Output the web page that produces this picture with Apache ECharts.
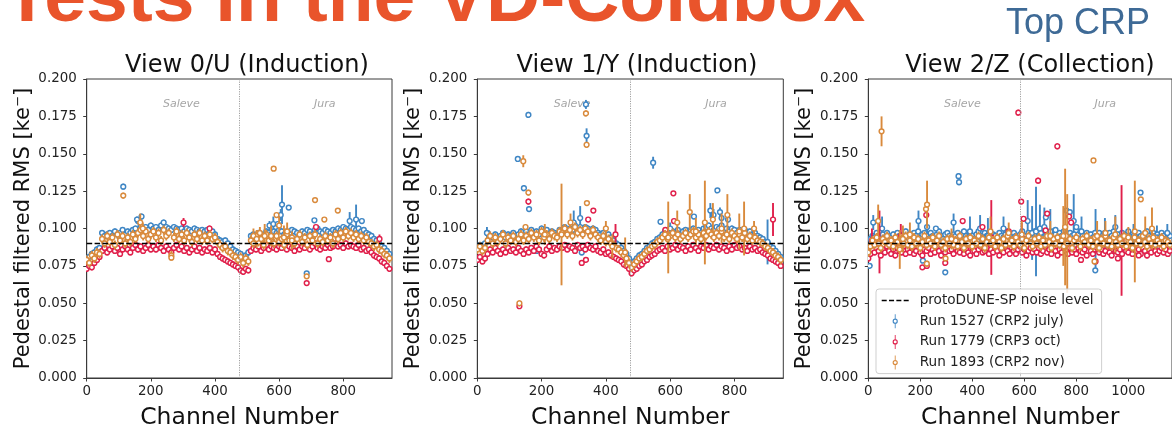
<!DOCTYPE html>
<html>
<head>
<meta charset="utf-8">
<script src="https://cdn.jsdelivr.net/npm/echarts@6/dist/echarts.min.js"></script>
<style>
  html, body { margin: 0; padding: 0; background: #fff; }
  #chart { width: 1172px; height: 435px; }
</style>
</head>
<body>
<div id="chart"></div>
<script>
// Pedestal-filtered noise RMS per channel for the three readout views of the top CRP.

const HEADER = 'Tests in the VD-Coldbox';
const SUBHEADER = 'Top CRP';
const VIEW_TITLES = ['View 0/U (Induction)', 'View 1/Y (Induction)', 'View 2/Z (Collection)'];
const RUN_NAMES = ['Run 1527 (CRP2 july)', 'Run 1779 (CRP3 oct)', 'Run 1893 (CRP2 nov)'];
const NOISE_NAME = 'protoDUNE-SP noise level';
const NOISE_LEVEL = 0.09;
const REGION_NAMES = ['Saleve', 'Jura'];

const VIEW_CHANNELS = [952, 952, 1168];       // channels per view
const VIEW_BOUNDARY = [476, 476, 584];        // Saleve | Jura split
const X_TICKS = [[0, 200, 400, 600, 800], [0, 200, 400, 600, 800], [0, 200, 400, 600, 800, 1000]];
const Y_MIN = 0, Y_MAX = 0.2, Y_STEP = 0.025;
const SAMPLE_STEP = 8;                        // channel spacing of the band samples
const BAND_ERR = [0.002, 0.002, 0.003];       // typical error on a band sample, per run

// ---- View 0/U : band samples (every 8 channels, 0..944) ----
const u1527 = [.080,.081,.083,.084,.086,.087,
  .097,.095,.096,.097,.095,.098,.096,.097,.099,.096,
  .098,.097,.099,.100,.105,.102,.100,.101,.099,.102,
  .100,.101,.099,.102,.104,.101,.100,.099,.101,.100,
  .099,.100,.098,.100,.099,.098,.100,.099,.098,.099,
  .098,.099,.097,.098,.096,.093,
  .092,.091,.092,.090,.088,.086,.085,.084,
  .083,.081,.082,.084,
  .095,.096,.094,.097,.096,.095,.098,.097,.096,.098,
  .097,.099,.098,.096,.098,.097,.099,.098,.097,.096,
  .098,.097,.099,.098,.096,.099,.100,.098,.097,.099,
  .098,.097,.099,.098,.100,.099,.101,.100,.099,.101,
  .100,.099,.100,.098,.099,.097,.096,
  .095,.093,.092,.090,.088,.087,.085,.083];
const u1779 = [.073,.075,.074,.077,.079,.081,
  .085,.087,.084,.086,.088,.085,.087,.083,.086,.088,
  .086,.084,.087,.089,.086,.088,.085,.087,.089,.086,
  .088,.086,.089,.087,.085,.088,.086,.084,.087,.089,
  .086,.088,.085,.087,.084,.086,.088,.085,.087,.084,
  .086,.085,.087,.084,.086,.083,
  .081,.080,.079,.078,.077,.076,.075,.074,
  .072,.071,.073,.072,
  .085,.087,.086,.088,.085,.087,.089,.086,.088,.087,
  .086,.088,.087,.089,.086,.088,.087,.085,.088,.086,
  .088,.087,.089,.086,.088,.090,.087,.086,.088,.087,
  .089,.087,.088,.090,.088,.089,.087,.090,.088,.089,
  .088,.087,.089,.086,.087,.085,.086,
  .084,.082,.081,.080,.078,.077,.075,.073];
const u1893 = [.079,.077,.082,.080,.084,.083,
  .093,.090,.095,.091,.094,.089,.096,.092,.095,.090,
  .094,.091,.096,.093,.097,.099,.095,.098,.093,.096,
  .098,.094,.097,.092,.099,.095,.097,.082,.094,.098,
  .093,.096,.092,.097,.094,.091,.096,.093,.097,.092,
  .095,.092,.096,.093,.094,.091,
  .089,.087,.088,.085,.084,.082,.081,.079,
  .081,.077,.080,.078,
  .092,.090,.095,.091,.093,.089,.096,.092,.094,.090,
  .095,.091,.093,.089,.096,.092,.094,.090,.093,.096,
  .091,.094,.089,.095,.092,.096,.090,.093,.091,.095,
  .092,.094,.090,.096,.093,.097,.094,.098,.095,.097,
  .094,.096,.093,.095,.092,.094,.091,
  .090,.088,.089,.086,.085,.083,.082,.080];
// isolated channels and long error bars: [channel, rms, error]
const u1527Extra = [[114,.128,.002],[157,.106,.002],[171,.108,.002],[570,.102,.003],[582,.103,.005],
  [596,.103,.002],[605,.109,.004],[609,.116,.013],[630,.114,.001],[686,.070,.001],[710,.1055,.001],
  [820,.105,.006],[840,.106,.010],[858,.105,.001]];
const u1779Extra = [[302,.104,.003],[383,.100,.002],[686,.0635,.001],[715,.101,.001],[755,.0795,.001],[913,.093,.003]];
const u1893Extra = [[114,.122,.002],[167,.104,.006],[175,.100,.004],[264,.0805,.002],[520,.095,.005],
  [530,.093,.006],[540,.097,.004],[555,.095,.008],[575,.095,.007],[583,.140,.001],[592,.109,.001],
  [600,.102,.006],[615,.094,.008],[625,.098,.006],[640,.092,.006],[686,.068,.001],[712,.119,.001],
  [741,.106,.001],[783,.112,.001]];

// ---- View 1/Y : band samples (every 8 channels, 0..944) ----
const y1527 = [.087,.089,.088,.090,
  .097,.095,.094,.096,.093,.095,.097,.094,.096,.095,
  .097,.094,.096,.098,.095,
  .098,.096,.099,.097,.098,.096,.100,.097,.099,.096,.098,.097,.096,.099,
  .099,.101,.098,.100,.099,.102,.100,.101,.099,.101,.100,.098,.100,.099,
  .097,.096,.097,.095,.096,.094,
  .092,.090,.089,.087,.085,.083,.080,
  .077,
  .078,.080,.082,.083,.085,.087,.088,.090,.091,.093,.094,
  .096,.098,.097,.099,.098,.097,.099,.096,.098,.099,
  .097,.099,.100,.098,.099,.097,.100,.101,.102,.100,
  .099,.101,.100,.102,.099,.100,.098,.100,.099,.097,
  .099,.098,.099,.097,.098,.096,.097,.095,.094,
  .093,.091,.090,.088,.087,.085,.083,.081];
const y1779 = [.079,.081,.078,.080,
  .083,.086,.084,.087,.085,.083,.086,.084,.087,.085,
  .086,.084,.087,.085,.083,
  .086,.084,.087,.085,.088,.086,.083,.082,.086,.088,.085,.087,.086,.088,
  .087,.089,.086,.088,.087,.085,.089,.087,.088,.086,.089,.087,.086,.088,
  .085,.084,.086,.083,.084,.082,
  .081,.080,.079,.078,.076,.075,.073,
  .070,
  .072,.073,.075,.076,.078,.079,.081,.082,.083,.085,.086,
  .087,.085,.088,.086,.087,.089,.086,.088,.087,.085,
  .088,.086,.089,.087,.085,.088,.087,.089,.086,.088,
  .087,.089,.086,.088,.087,.085,.088,.086,.089,.087,
  .088,.086,.087,.085,.088,.086,.087,.085,.086,
  .084,.083,.082,.080,.079,.078,.077,.075];
const y1893 = [.086,.088,.085,.087,
  .092,.095,.090,.094,.091,.093,.096,.090,.094,.092,
  .095,.091,.093,.096,.092,
  .095,.093,.097,.094,.096,.092,.098,.094,.096,.093,.097,.095,.094,.098,
  .097,.100,.096,.099,.095,.101,.097,.099,.096,.100,.098,.095,.099,.096,
  .094,.092,.095,.091,.093,.090,
  .089,.087,.086,.084,.082,.080,.077,
  .074,
  .076,.078,.080,.081,.083,.085,.086,.088,.089,.091,.092,
  .094,.096,.093,.095,.097,.094,.096,.093,.095,.097,
  .094,.096,.098,.094,.096,.093,.097,.095,.098,.096,
  .094,.097,.095,.098,.094,.096,.093,.097,.095,.093,
  .096,.094,.097,.093,.095,.092,.094,.092,.091,
  .090,.088,.087,.085,.084,.082,.081,.079];
const y1527Extra = [[30,.097,.004],[126,.1465,.001],[145,.127,.002],[159,.176,.002],[161,.113,.002],
  [185,.085,.001],[300,.104,.008],[320,.107,.008],[325,.084,.002],[338,.183,.003],[340,.162,.005],
  [547,.144,.004],[570,.1045,.001],[600,.100,.004],[674,.108,.001],[725,.112,.005],[735,.109,.004],
  [747,.1255,.001],[755,.111,.003],[760,.107,.002],[780,.106,.002],[903,.091,.015]];
const y1779Extra = [[131,.048,.001],[159,.118,.002],[325,.077,.001],[338,.079,.001],[345,.106,.001],
  [361,.112,.001],[430,.096,.007],[585,.099,.001],[610,.1235,.001],[612,.105,.001],[920,.106,.011]];
const y1893Extra = [[131,.050,.002],[143,.145,.004],[150,.101,.002],[159,.124,.002],[210,.096,.007],
  [262,.096,.034],[290,.104,.006],[338,.177,.002],[340,.156,.002],[341,.117,.001],[400,.100,.005],
  [420,.088,.008],[460,.084,.010],[594,.094,.024],[622,.104,.008],[661,.111,.012],[680,.098,.009],
  [708,.104,.028],[733,.106,.011],[760,.100,.010],[778,.109,.014],[815,.098,.012],[830,.100,.018],
  [861,.100,.005]];

// ---- View 2/Z : band samples (every 8 channels, 0..1160) ----
const z1527 = [.086,.093,.095,.094,.097,.095,.093,.096,.094,.097,
  .095,.094,.096,.093,.097,.095,.094,.096,.098,.094,
  .096,.094,.097,.095,.098,.094,.096,.097,.095,.093,
  .097,.095,.094,.096,.098,.095,.093,.096,.097,.095,
  .094,.096,.095,.097,.094,.096,.098,.095,.094,.097,
  .095,.093,.096,.098,.095,.094,.097,.095,.096,.094,
  .096,.095,.093,.097,.095,.094,.096,.098,.095,.093,
  .097,.095,.094,.096,.098,.095,.093,.097,.094,.096,
  .098,.096,.095,.097,.094,.099,.096,.095,.097,.098,
  .096,.094,.097,.095,.098,.096,.094,.097,.095,.096,
  .094,.096,.098,.095,.093,.097,.095,.096,.094,.097,
  .095,.097,.094,.096,.095,.093,.097,.095,.098,.094,
  .096,.094,.097,.095,.096,.098,.094,.096,.095,.093,
  .097,.095,.094,.096,.098,.095,.093,.097,.095,.096,
  .094,.097,.095,.093,.096,.095];
const z1779 = [.080,.083,.086,.084,.087,.085,.082,.086,.084,.088,
  .085,.083,.086,.082,.087,.085,.084,.088,.083,.086,
  .084,.087,.083,.085,.088,.084,.082,.086,.085,.087,
  .083,.086,.084,.088,.085,.082,.086,.084,.087,.085,
  .086,.083,.087,.085,.084,.088,.083,.086,.084,.082,
  .087,.085,.083,.086,.088,.084,.085,.087,.083,.086,
  .084,.087,.085,.082,.086,.084,.088,.085,.083,.087,
  .085,.083,.086,.088,.084,.086,.082,.085,.087,.084,
  .086,.084,.087,.083,.085,.088,.084,.086,.083,.087,
  .085,.082,.086,.084,.088,.085,.083,.087,.084,.086,
  .083,.087,.085,.084,.086,.082,.088,.085,.083,.086,
  .087,.084,.086,.083,.085,.088,.084,.082,.086,.085,
  .084,.086,.083,.087,.085,.084,.088,.083,.086,.085,
  .086,.083,.087,.085,.082,.086,.084,.088,.085,.083,
  .085,.087,.084,.086,.083,.085];
const z1893 = [.084,.088,.092,.089,.094,.090,.087,.093,.091,.095,
  .089,.092,.088,.094,.091,.087,.093,.090,.095,.089,
  .092,.088,.094,.090,.093,.087,.091,.095,.089,.092,
  .090,.094,.088,.092,.095,.089,.091,.087,.093,.090,
  .094,.089,.092,.088,.095,.091,.087,.093,.090,.094,
  .088,.092,.090,.095,.089,.093,.087,.091,.094,.090,
  .092,.088,.094,.091,.087,.093,.089,.095,.090,.092,
  .088,.094,.091,.089,.093,.087,.092,.095,.090,.088,
  .093,.090,.094,.088,.092,.089,.095,.091,.087,.093,
  .090,.094,.089,.092,.088,.095,.091,.093,.087,.092,
  .094,.090,.088,.093,.091,.095,.089,.092,.088,.094,
  .091,.087,.093,.090,.095,.089,.092,.088,.094,.091,
  .089,.093,.090,.095,.088,.092,.091,.087,.094,.090,
  .092,.089,.095,.091,.088,.093,.090,.094,.089,.092,
  .090,.094,.088,.092,.091,.089];
const z1527Extra = [[5,.075,.001],[19,.104,.005],[53,.100,.008],[193,.105,.007],[210,.0785,.001],
  [226,.101,.006],[260,.100,.001],[296,.0707,.001],[328,.104,.006],[347,.135,.002],[349,.131,.002],
  [391,.098,.010],[430,.100,.009],[460,.095,.012],[520,.100,.008],[613,.105,.014],[630,.097,.018],
  [645,.098,.030],[660,.100,.016],[677,.101,.013],[683,.1075,.001],[700,.098,.015],[720,.099,.001],
  [762,.112,.001],[775,.111,.001],[790,.105,.018],[800,.101,.001],[820,.098,.010],[873,.072,.001],
  [874,.093,.020],[910,.097,.010],[950,.101,.008],[1020,.095,.008],[1047,.124,.001],[1110,.094,.008],
  [1150,.097,.006]];
const z1779Extra = [[14,.092,.008],[43,.091,.021],[125,.095,.008],[208,.074,.001],[223,.109,.001],
  [225,.075,.001],[296,.077,.002],[363,.105,.001],[439,.101,.001],[473,.094,.025],[540,.098,.001],
  [577,.1775,.002],[588,.118,.001],[590,.094,.010],[597,.1065,.001],[653,.132,.002],[682,.0987,.001],
  [688,.110,.001],[727,.155,.002],[772,.108,.001],[780,.104,.001],[818,.079,.001],[874,.078,.001],
  [960,.080,.001],[974,.092,.037],[1040,.082,.001]];
const z1893Extra = [[38,.105,.011],[51,.165,.010],[121,.086,.013],[133,.093,.009],[160,.096,.008],
  [222,.113,.001],[225,.0765,.002],[226,.116,.016],[297,.080,.001],[320,.093,.007],[470,.098,.010],
  [540,.097,.007],[590,.096,.009],[700,.095,.010],[750,.095,.020],[757,.101,.039],[765,.090,.033],
  [866,.1455,.001],[870,.078,.002],[880,.095,.010],[912,.097,.008],[950,.096,.012],[1000,.094,.007],
  [1025,.098,.034],[1048,.1195,.001],[1065,.097,.011],[1091,.100,.014]];

const VIEW_DATA = [
  [[u1527, u1527Extra], [u1779, u1779Extra], [u1893, u1893Extra]],
  [[y1527, y1527Extra], [y1779, y1779Extra], [y1893, y1893Extra]],
  [[z1527, z1527Extra], [z1779, z1779Extra], [z1893, z1893Extra]]
];

// ---- styling ----
const RUN_COLORS = ['#3f86c4', '#e0204b', '#d98a3c'];
const FONT = '"DejaVu Sans", sans-serif';
const FRAME = '#3a3a3a';
const GRIDS = [
  { left: 86.7, top: 79, width: 305.3, height: 303.3 },
  { left: 477.3, top: 79, width: 306, height: 303.3 },
  { left: 868.3, top: 79, width: 306, height: 303.3 }
];
const TITLE_X = [242, 632, 1025];
const ERRBAR_ICON = 'path://M4.4,0H5.6V6.3H4.4Z M4.4,13.7H5.6V20H4.4Z ' +
  'M5,6.3A3.7,3.7,0,1,1,5,13.7A3.7,3.7,0,1,1,5,6.3Z M5,7.9A2.1,2.1,0,1,0,5,12.1A2.1,2.1,0,1,0,5,7.9Z';
const DASH_ICON = 'path://M0,0H5V1.5H0Z M7.3,0H12.3V1.5H7.3Z M14.6,0H19.6V1.5H14.6Z M21.9,0H26.9V1.5H21.9Z';

function withErrors(values, err) {
  return values.map((v, i) => [i * SAMPLE_STEP, v, err]);
}

function renderBar(params, api) {
  const x = api.value(0), v = api.value(1), e = api.value(2);
  const a = api.coord([x, v + e]);
  const b = api.coord([x, v - e]);
  return {
    type: 'line',
    shape: { x1: a[0], y1: a[1], x2: b[0], y2: b[1] },
    style: { stroke: api.visual('color'), lineWidth: 1.9 }
  };
}

function renderMarker(params, api) {
  const c = api.coord([api.value(0), api.value(1)]);
  return {
    type: 'circle',
    shape: { cx: c[0], cy: c[1], r: 2.4 },
    style: { fill: '#ffffff', stroke: api.visual('color'), lineWidth: 1.45 }
  };
}

const series = [];
VIEW_TITLES.forEach((title, k) => {
  // Saleve / Jura split and region names
  series.push({
    type: 'scatter', name: 'regions', xAxisIndex: k, yAxisIndex: k, silent: true, z: 1,
    symbolSize: 0,
    data: REGION_NAMES.map((n, j) => [VIEW_CHANNELS[k] * (j === 0 ? 0.31 : 0.78), 0.183, n]),
    label: {
      show: true, position: 'inside', formatter: p => p.value[2],
      fontFamily: FONT, fontStyle: 'italic', fontSize: 11, color: '#8f8f8f'
    },
    markLine: {
      silent: true, symbol: 'none', label: { show: false }, animation: false,
      lineStyle: { color: '#a0a0a0', type: [1.2, 1.2], width: 1 },
      data: [{ xAxis: VIEW_BOUNDARY[k] }]
    }
  });
  RUN_NAMES.forEach((name, r) => {
    const [band, extra] = VIEW_DATA[k][r];
    const pts = withErrors(band, BAND_ERR[r]).concat(extra);
    series.push({
      type: 'custom', name, xAxisIndex: k, yAxisIndex: k, data: pts, clip: true, z: 2,
      encode: { x: 0, y: 1 }, itemStyle: { color: RUN_COLORS[r] }, renderItem: renderBar
    });
    series.push({
      type: 'custom', name, xAxisIndex: k, yAxisIndex: k, data: pts, clip: true, z: 2,
      encode: { x: 0, y: 1 }, itemStyle: { color: RUN_COLORS[r] }, renderItem: renderMarker
    });
  });
  series.push({
    type: 'line', name: NOISE_NAME, xAxisIndex: k, yAxisIndex: k, z: 5, silent: true,
    color: '#000000', symbol: 'none',
    data: [[0, NOISE_LEVEL], [VIEW_CHANNELS[k], NOISE_LEVEL]],
    lineStyle: { color: '#000000', width: 1.5, type: [5.5, 2.4] }
  });
});

const option = {
  animation: false,
  backgroundColor: '#ffffff',
  title: VIEW_TITLES.map((t, k) => ({
    text: t, left: TITLE_X[k], top: 49, textAlign: 'center',
    textStyle: { fontFamily: FONT, fontSize: 24, fontWeight: 'normal', color: '#111' }
  })),
  graphic: [
    { type: 'text', x: 4, y: 0, style: { text: HEADER, fill: '#e9542b',
      font: 'bold 75px "Liberation Sans", Arial, sans-serif', textVerticalAlign: 'middle' } },
    { type: 'text', x: 1006, y: 24, style: { text: SUBHEADER, fill: '#3e6a96',
      font: '36px "Liberation Sans", Arial, sans-serif', textVerticalAlign: 'middle' } }
  ],
  legend: {
    data: [{ name: NOISE_NAME, icon: DASH_ICON }].concat(RUN_NAMES.map(n => ({ name: n, icon: ERRBAR_ICON }))),
    orient: 'vertical', left: 876, top: 289,
    itemWidth: 27, itemHeight: 14, itemGap: 6.7,
    padding: [4.5, 8, 4, 5.7],
    borderColor: '#cfcfcf', borderWidth: 1, borderRadius: 3,
    backgroundColor: 'rgba(255,255,255,0.85)',
    selectedMode: false, z: 10,
    itemStyle: { borderWidth: 0 },
    textStyle: { fontFamily: FONT, fontSize: 13.6, color: '#222', padding: [0, 0, 0, 6] }
  },
  grid: GRIDS.map(g => Object.assign({ show: true, borderColor: FRAME, borderWidth: 1 }, g)),
  xAxis: VIEW_TITLES.map((t, k) => ({
    type: 'value', gridIndex: k, min: 0, max: VIEW_CHANNELS[k], interval: 200,
    name: 'Channel Number', nameLocation: 'middle', nameGap: 28,
    nameTextStyle: { fontFamily: FONT, fontSize: 23.5, color: '#111' },
    axisLine: { show: true, lineStyle: { color: FRAME, width: 1 } },
    axisTick: { show: true, length: 3.5, customValues: X_TICKS[k], lineStyle: { color: FRAME } },
    axisLabel: { customValues: X_TICKS[k], margin: 7, fontFamily: FONT, fontSize: 13.4, color: '#222',
      formatter: v => String(v) },
    splitLine: { show: false }
  })),
  yAxis: VIEW_TITLES.map((t, k) => ({
    type: 'value', gridIndex: k, min: Y_MIN, max: Y_MAX, interval: Y_STEP,
    name: 'Pedestal filtered RMS [ke\u207B]', nameLocation: 'middle', nameGap: 53,
    nameTextStyle: { fontFamily: FONT, fontSize: 21, color: '#111' },
    axisLine: { show: true, lineStyle: { color: FRAME, width: 1 } },
    axisTick: { show: true, length: 3.5, lineStyle: { color: FRAME } },
    axisLabel: { margin: 10, fontFamily: FONT, fontSize: 13.4, color: '#222', formatter: v => v.toFixed(3) },
    splitLine: { show: false }
  })),
  series
};

const chart = echarts.init(document.getElementById('chart'), null, { renderer: 'canvas' });
chart.setOption(option);
</script>
</body>
</html>
